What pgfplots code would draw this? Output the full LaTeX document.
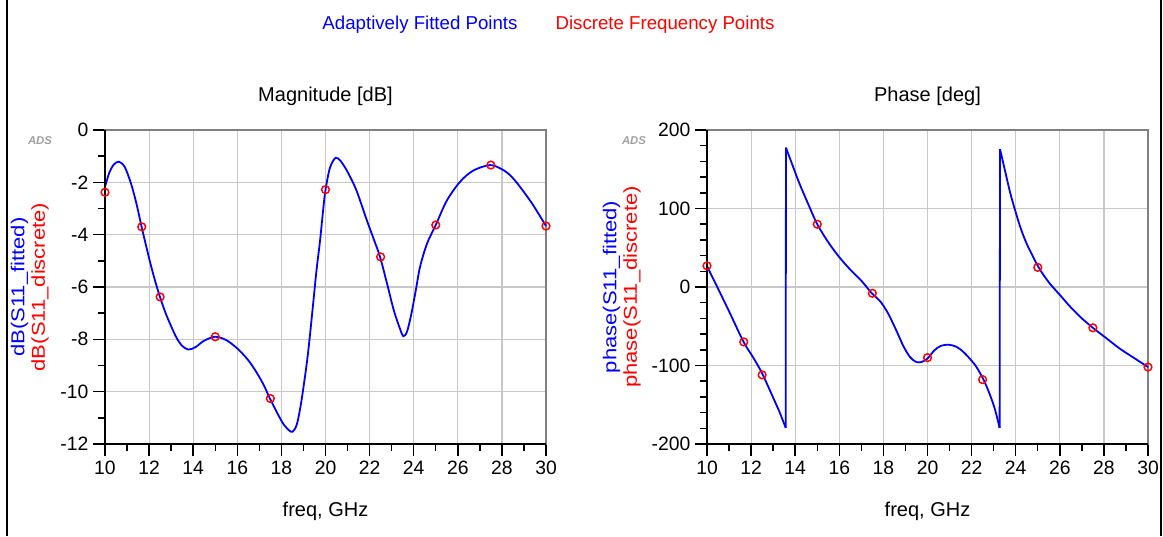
\documentclass[border=0pt]{standalone}
\usepackage{fontspec}
\setmainfont{Liberation Sans}
\usepackage{graphicx}
\usepackage{pgfplots}
\pgfplotsset{compat=1.18}
\definecolor{gridc}{RGB}{200,200,200}
\definecolor{boxc}{RGB}{128,128,128}
\definecolor{adsc}{RGB}{160,160,160}
\definecolor{fitb}{RGB}{0,0,255}
\definecolor{disr}{RGB}{255,0,0}

\pgfplotsset{
  adsaxis/.style={
    scale only axis, width=330.75pt, height=235.5pt,
    xmin=10, xmax=30, xtick={10,12,...,30}, minor x tick num=1,
    grid=major, major grid style={gridc, line width=0.9pt},
    axis line style={boxc, line width=1.5pt},
    tick align=outside, tick pos=left,
    major tick length=9pt, minor tick length=5.25pt,
    every tick/.style={black, line width=1.1pt},
    /pgf/number format/assume math mode=true,
    tick label style={font=\fontsize{14.5}{16}\selectfont},
    title style={font=\fontsize{15}{18}\selectfont, at={(0.5,1)}, anchor=base, yshift=15.5pt},
    xlabel={freq, GHz},
    xlabel style={font=\fontsize{15}{18}\selectfont, at={(0.5,0)}, anchor=base, yshift=-54pt},
    clip=false,
  },
  fit/.style={fitb, line width=1.35pt, smooth, tension=0.5, no marks},
  dis/.style={disr, only marks, mark=o, mark size=2.9pt, mark options={line width=1.1pt}},
}
\newcommand{\ylab}[1]{\scalebox{1.18}[1]{#1}}

\begin{document}
\begin{tikzpicture}
\path[use as bounding box] (0,0) rectangle (872.25pt,402pt);
\draw[line width=1.5pt] (5.25pt,0) -- (5.25pt,402pt);
\draw[line width=1.5pt] (871.1pt,0) -- (871.1pt,402pt);

\node[fitb, font=\fontsize{14}{16}\selectfont] at (315pt,383.25pt) {Adaptively Fitted Points};
\node[disr, font=\fontsize{14}{16}\selectfont] at (498.75pt,383.25pt) {Discrete Frequency Points};

% ---------------- Magnitude ----------------
\begin{axis}[adsaxis, at={(78.75pt,69pt)}, anchor=south west,
  ymin=-12, ymax=0, ytick={-12,-10,...,0}, minor y tick num=1,
  title={Magnitude [dB]}]
\addplot[fit] coordinates {
(10.0,-2.17) (10.2,-1.62) (10.4,-1.32) (10.63,-1.21) (10.9,-1.42) (11.2,-2.1)
(11.45,-2.9) (11.66,-3.70) (12.0,-4.9) (12.25,-5.7) (12.5,-6.4) (12.75,-7.0)
(13.0,-7.5) (13.25,-7.95) (13.5,-8.25) (13.78,-8.39) (14.1,-8.3) (14.5,-8.05)
(15.0,-7.9) (15.5,-8.03) (16.0,-8.35) (16.5,-8.8) (16.9,-9.3) (17.2,-9.75)
(17.48,-10.26) (17.8,-10.8) (18.1,-11.25) (18.35,-11.48) (18.51,-11.53)
(18.7,-11.25) (18.9,-10.4) (19.15,-8.92) (19.3,-7.8) (19.45,-6.55) (19.6,-5.3)
(19.75,-4.25) (19.9,-3.0) (20.0,-2.29) (20.2,-1.45) (20.46,-1.06) (20.7,-1.2)
(21.0,-1.6) (21.4,-2.3) (21.87,-3.44) (22.2,-4.2) (22.47,-4.84) (22.8,-5.9)
(23.1,-6.9) (23.38,-7.6) (23.53,-7.88) (23.7,-7.7) (23.9,-7.0) (24.1,-6.1)
(24.29,-5.22) (24.6,-4.35) (25.0,-3.63) (25.5,-2.7) (26.1,-1.98) (26.7,-1.55)
(27.46,-1.34) (28.0,-1.5) (28.4,-1.75) (28.82,-2.17) (29.4,-2.85) (30.0,-3.67)
};
\addplot[dis] coordinates {
(10,-2.38) (11.667,-3.7) (12.5,-6.38) (15,-7.9) (17.5,-10.26)
(20,-2.28) (22.5,-4.85) (25,-3.63) (27.5,-1.34) (30,-3.67)
};
\draw[black, line width=1.5pt] (rel axis cs:0,1) -- (rel axis cs:0,0) -- (rel axis cs:1,0);
\end{axis}

% ---------------- Phase ----------------
\begin{axis}[adsaxis, at={(530.25pt,69pt)}, anchor=south west,
  ymin=-200, ymax=200, ytick={-200,-100,...,200}, minor y tick num=4,
  title={Phase [deg]}]
\addplot[fit] coordinates {
(10.0,26.5) (10.5,-2) (11.0,-31) (11.66,-70) (12.1,-90) (12.5,-110)
(13.0,-141) (13.3,-160) (13.57,-179.5)
};
\addplot[fitb, line width=1.35pt, no marks] coordinates {(13.57,-179.5) (13.58,177.5)};
\addplot[fit] coordinates {
(13.58,177.5) (13.8,161) (14.19,132) (14.6,105) (15.0,80) (15.5,57) (16.0,38)
(16.5,22) (17.0,8) (17.49,-8.5) (17.85,-18) (18.2,-33) (18.58,-55) (18.9,-75)
(19.2,-89) (19.45,-95) (19.66,-96) (19.85,-94) (20.04,-90) (20.3,-81) (20.6,-75)
(20.95,-73.5) (21.3,-76) (21.6,-82) (21.86,-89.5) (22.2,-101) (22.54,-118)
(22.8,-135) (23.05,-155) (23.27,-179.5)
};
\addplot[fitb, line width=1.35pt, no marks] coordinates {(23.27,-179.5) (23.29,175.5)};
\addplot[fit] coordinates {
(23.29,175.5) (23.5,150) (23.75,120) (23.95,100) (24.2,77) (24.5,55) (25.03,25.5)
(25.5,6) (26.0,-10) (26.5,-26) (27.0,-40) (27.52,-52.4) (28.1,-65) (28.73,-78.7)
(29.4,-91) (30.0,-102)
};
\addplot[dis] coordinates {
(10,27) (11.667,-70) (12.5,-112) (15,80) (17.5,-8)
(20,-90) (22.5,-118) (25,25) (27.5,-52) (30,-102)
};
\draw[black, line width=1.5pt] (rel axis cs:0,1) -- (rel axis cs:0,0) -- (rel axis cs:1,0);
\end{axis}

% y labels
\node[rotate=90, fitb, font=\fontsize{14}{16}\selectfont] at (14.6pt,186.75pt) {\ylab{dB(S11\_fitted)}};
\node[rotate=90, disr, font=\fontsize{14}{16}\selectfont] at (30pt,186.75pt) {\ylab{dB(S11\_discrete)}};
\node[rotate=90, fitb, font=\fontsize{14}{16}\selectfont] at (458.6pt,186.75pt) {\ylab{phase(S11\_fitted)}};
\node[rotate=90, disr, font=\fontsize{14}{16}\selectfont] at (474pt,186.75pt) {\ylab{phase(S11\_discrete)}};

% ADS logos
\node[adsc, font=\fontsize{8.5}{9}\selectfont\bfseries\itshape] at (30pt,296.25pt) {ADS};
\node[adsc, font=\fontsize{8.5}{9}\selectfont\bfseries\itshape] at (475.5pt,296.25pt) {ADS};
\end{tikzpicture}
\end{document}
